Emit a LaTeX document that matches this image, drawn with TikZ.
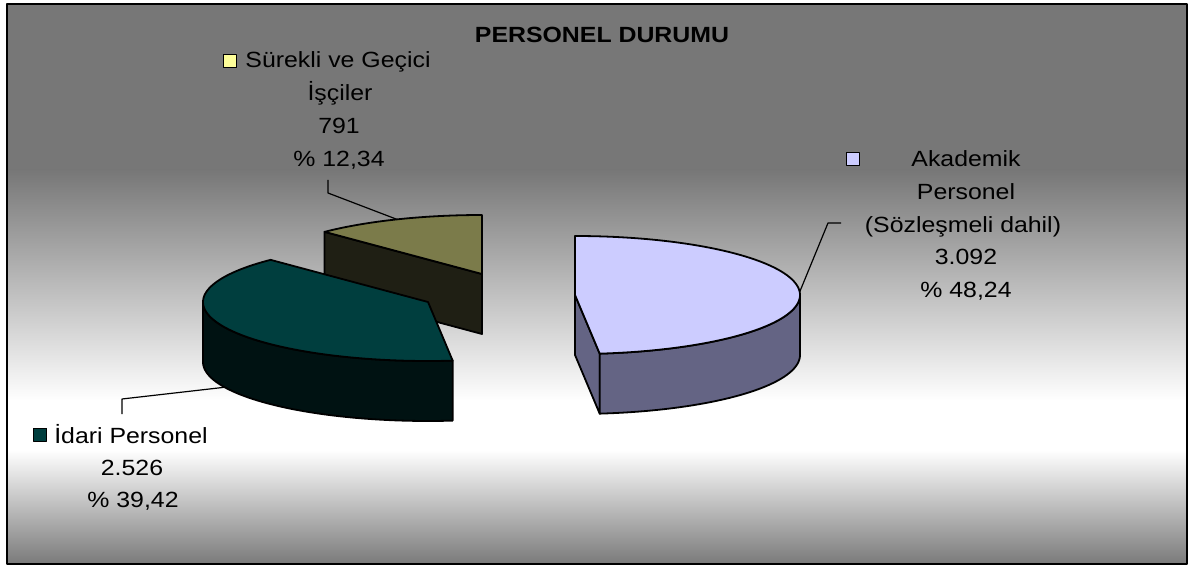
\documentclass[tikz,border=0pt]{standalone}
\usepackage{fontspec}
\setmainfont{Liberation Sans}
\usepackage{graphicx}
\usetikzlibrary{calc}
\definecolor{bgtop}{RGB}{119,119,119}
\definecolor{bgbot}{RGB}{122,122,122}
\definecolor{akTop}{RGB}{204,204,255}
\definecolor{akSide}{RGB}{100,100,132}
\definecolor{idTop}{RGB}{0,62,62}
\definecolor{idSide}{RGB}{0,18,18}
\definecolor{suTop}{RGB}{123,123,74}
\definecolor{suSide}{RGB}{31,31,20}
\definecolor{suKey}{RGB}{255,255,153}
\newcommand{\widetxt}[1]{\scalebox{1.13}[1]{#1}}
\begin{document}
\begin{tikzpicture}[x=1pt,y=-1pt,line join=round,
  edge/.style={draw=black,line width=1.8pt},
  leader/.style={draw=black,line width=1.2pt},
  lbl/.style={inner sep=0pt,anchor=base,font=\fontsize{22}{26}\selectfont},
  ttl/.style={inner sep=0pt,anchor=base,font=\fontsize{22}{26}\selectfont\bfseries},
  keybox/.style={draw=black,line width=1.2pt,minimum size=13pt,inner sep=0pt,anchor=south west}]
\useasboundingbox (0,0) rectangle (1192,567);
\fill[white] (0,0) rectangle (1192,567);
% background gradient
\fill[bgtop] (7,4) rectangle (1187,171);
\shade[top color=bgtop,bottom color=white] (7,170) rectangle (1187,401);
\fill[white] (7,400) rectangle (1187,451);
\shade[top color=white,bottom color=bgbot] (7,450) rectangle (1187,564);
\draw[line width=2pt] (7,4) rectangle (1187,564);

% ---- Surekli ve Gecici Isciler slice (back)
\coordinate (suC) at (482,274);
\coordinate (suA) at ({482+225*cos(134.4)},{274-59*sin(134.4)});
\coordinate (suB) at (482,215);
\filldraw[edge,fill=suSide] (suC) -- (suA) -- ($(suA)+(0,60)$) -- ($(suC)+(0,60)$) -- cycle;
\filldraw[edge,fill=suTop] (suC) -- (suB) -- plot[domain=90:134.4,samples=40] ({482+225*cos(\x)},{274-59*sin(\x)}) -- cycle;

% ---- Idari Personel slice (left)
\coordinate (idC) at (428,302);
\filldraw[edge,fill=idSide] plot[domain=180:276.3,samples=60] ({428+225*cos(\x)},{302-59*sin(\x)})
  -- plot[domain=276.3:180,samples=60] ({428+225*cos(\x)},{362-59*sin(\x)}) -- cycle;
\filldraw[edge,fill=idTop] (idC) -- plot[domain=134.4:276.3,samples=90] ({428+225*cos(\x)},{302-59*sin(\x)}) -- cycle;

% ---- Akademik Personel slice (right)
\coordinate (akC) at (575,295);
\coordinate (akF) at ({575+225*cos(-83.7)},{295-59*sin(-83.7)});
\filldraw[edge,fill=akSide] (akC) -- (akF) -- ($(akF)+(0,60)$) -- ($(akC)+(0,60)$) -- cycle;
\filldraw[edge,fill=akSide] plot[domain=-83.7:0,samples=60] ({575+225*cos(\x)},{295-59*sin(\x)})
  -- plot[domain=0:-83.7,samples=60] ({575+225*cos(\x)},{355-59*sin(\x)}) -- cycle;
\filldraw[edge,fill=akTop] (akC) -- plot[domain=-83.7:90,samples=110] ({575+225*cos(\x)},{295-59*sin(\x)}) -- cycle;

% ---- title
\node[ttl] (title) at (602,43) {\widetxt{PERSONEL DURUMU}};

% ---- Surekli label
\node[keybox,fill=suKey] (suKeyBox) at (223,68) {};
\node[lbl] (su1) at (338,68) {\widetxt{Sürekli ve Geçici}};
\node[lbl] (su2) at (340,101) {\widetxt{İşçiler}};
\node[lbl] (su3) at (339,134) {\widetxt{791}};
\node[lbl] (su4) at (339,167) {\widetxt{\% 12,34}};

% ---- Akademik label
\node[keybox,fill=akTop] (akKeyBox) at (846,166) {};
\node[lbl] (ak1) at (966,167) {\widetxt{Akademik}};
\node[lbl] (ak2) at (966,199.5) {\widetxt{Personel}};
\node[lbl] (ak3) at (963,232) {\widetxt{(Sözleşmeli dahil)}};
\node[lbl] (ak4) at (966,264.5) {\widetxt{3.092}};
\node[lbl] (ak5) at (966,297) {\widetxt{\% 48,24}};

% ---- Idari label
\node[keybox,fill=idTop] (idKeyBox) at (33,442) {};
\node[lbl] (id1) at (131,443) {\widetxt{İdari Personel}};
\node[lbl] (id2) at (132,475) {\widetxt{2.526}};
\node[lbl] (id3) at (133,507) {\widetxt{\% 39,42}};

% ---- leader lines
\coordinate (suL) at ({482+225*cos(112.2)},{274-59*sin(112.2)});
\coordinate (suK) at (328,193);
\coordinate (suE) at (328,180);
\draw[leader] (suL) -- (suK) -- (suE);
\coordinate (akL) at ({575+225*cos(3)},{295-59*sin(3)});
\coordinate (akK) at (828,223);
\coordinate (akE) at (841,223);
\draw[leader] (akL) -- (akK) -- (akE);
\coordinate (idL) at ({428+225*cos(-154.65)},{362-59*sin(-154.65)});
\coordinate (idK) at (122,399);
\coordinate (idE) at (122,414);
\draw[leader] (idL) -- (idK) -- (idE);
\end{tikzpicture}
\end{document}
